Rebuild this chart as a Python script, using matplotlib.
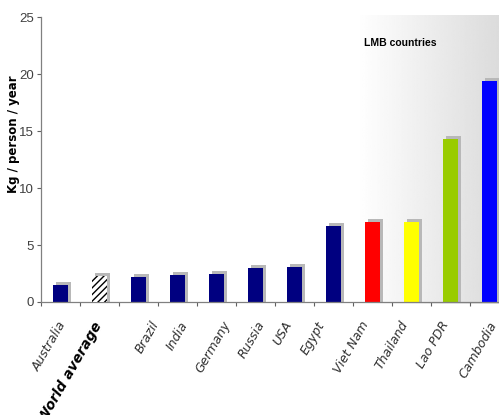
import numpy as np
import matplotlib
matplotlib.use("Agg")
import matplotlib.pyplot as plt

categories = ["Australia", "World average", "Brazil", "India", "Germany", "Russia",
              "USA", "Egypt", "Viet Nam", "Thailand", "Lao PDR", "Cambodia"]
values = [1.5, 2.3, 2.2, 2.4, 2.5, 3.0, 3.1, 6.7, 7.0, 7.0, 14.3, 19.4]
colors = ["#000080", "white", "#000080", "#000080", "#000080", "#000080",
          "#000080", "#000080", "#ff0000", "#ffff00", "#99cc00", "#0000ff"]
yticks = [0, 5, 10, 15, 20, 25]

# layout: hand-placed label shifts in pixels (as in the original slide)
label_shift_px = [-2.5, -6.5, 11.5, 1.5, 5.5, 0.5, -11.5, -17.5, -12.5, -11.5, -10.5, -1.5]

ARIAL = ["Liberation Sans", "DejaVu Sans"]
PX = 39.0  # pixels per category

fig = plt.figure(figsize=(4.99, 4.15), dpi=100)
ax = fig.add_axes([41/499, 113/415, 468/499, 285/415])
ax.set_xlim(0, 12)
ax.set_ylim(0, 25)

# gradient background for LMB countries
grad = np.linspace(1.0, 0.85, 256).reshape(1, -1)
ax.imshow(grad, cmap="gray", vmin=0, vmax=1, aspect="auto",
          extent=(8.1, 12.0, -0.2, 25.1), zorder=0, clip_on=False,
          interpolation="bilinear")
ax.text(9.2, 22.7, "LMB countries", ha="center", va="center", fontsize=7.5,
        family=ARIAL, fontweight="bold")

x = np.arange(len(categories)) + 0.5
w = 0.39
vals = np.array(values)
# shadows
ax.bar(x + 0.08, vals + 0.26, width=w, color="#b8b8b8", zorder=1)
ax.bar(x, vals, width=w, color=colors, zorder=2)
ax.bar(x[1], values[1], width=w, color="white", hatch="/////", edgecolor="black",
       linewidth=0, zorder=3)

ax.set_xticks(np.arange(0, 13))
ax.set_xticklabels([])
ax.set_yticks(yticks)
ax.set_yticklabels([str(v) for v in yticks], color="#404040", fontsize=9.5,
                   family=ARIAL)
ax.tick_params(axis="x", direction="out", length=3, color="#606060", width=0.8)
ax.tick_params(axis="y", direction="out", length=3, color="#606060", width=0.8, pad=2)
for s in ["top", "right"]:
    ax.spines[s].set_visible(False)
for s in ["left", "bottom"]:
    ax.spines[s].set_color("#808080")
    ax.spines[s].set_linewidth(0.9)
ax.set_facecolor("none")

fig.text(14/499, (415-134)/415, "Kg / person / year", rotation=90, ha="center",
         va="center", fontsize=8.5, fontweight="bold")

for xi, lab, sh in zip(x, categories, label_shift_px):
    xa = xi + sh / PX
    if lab == "World average":
        ax.text(xa, -1.5, lab, rotation=60, ha="right", va="top", fontsize=10,
                fontweight="bold", fontstyle="italic", rotation_mode="anchor")
    else:
        ax.text(xa, -1.5, lab, rotation=60, ha="right", va="top", fontsize=9,
                fontstyle="italic", color="#303030", rotation_mode="anchor")

fig.savefig("out.png", dpi=100)
